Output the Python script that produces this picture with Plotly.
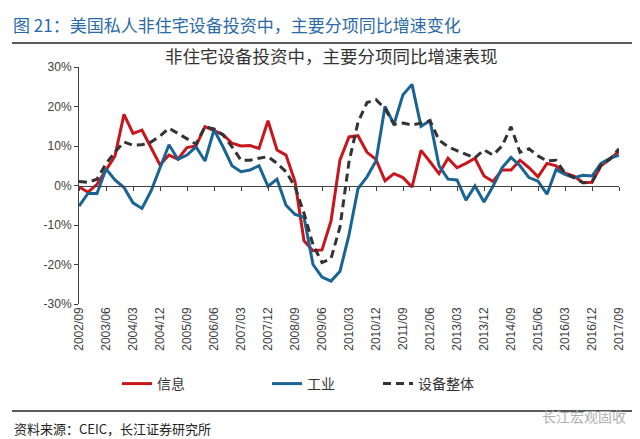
import plotly.graph_objects as go

quarters = [
    "2002/09", "2002/12", "2003/03", "2003/06", "2003/09", "2003/12", "2004/03", "2004/06",
    "2004/09", "2004/12", "2005/03", "2005/06", "2005/09", "2005/12", "2006/03", "2006/06",
    "2006/09", "2006/12", "2007/03", "2007/06", "2007/09", "2007/12", "2008/03", "2008/06",
    "2008/09", "2008/12", "2009/03", "2009/06", "2009/09", "2009/12", "2010/03", "2010/06",
    "2010/09", "2010/12", "2011/03", "2011/06", "2011/09", "2011/12", "2012/03", "2012/06",
    "2012/09", "2012/12", "2013/03", "2013/06", "2013/09", "2013/12", "2014/03", "2014/06",
    "2014/09", "2014/12", "2015/03", "2015/06", "2015/09", "2015/12", "2016/03", "2016/06",
    "2016/09", "2016/12", "2017/03", "2017/06", "2017/09",
]

tick_labels = quarters[::3]

info = [
    -0.3, -1.7, 0.3, 4.0, 7.5, 18.0, 13.2, 14.0, 9.4, 5.2, 7.7, 6.7, 9.6, 10.0, 14.9,
    13.8, 12.9, 10.7, 10.0, 10.1, 9.4, 16.4, 9.0, 7.7, 1.0, -14.0, -16.5, -16.3, -9.0, 6.5, 12.3,
    12.6, 8.4, 6.6, 1.2, 3.0, 2.0, -0.4, 8.9, 6.0, 3.0, 6.9, 4.5, 5.6, 6.9, 2.4, 1.0,
    3.9, 3.9, 6.4, 4.5, 2.2, 5.6, 5.0, 3.1, 2.4, 0.7, 0.8, 5.0, 6.7, 8.7,
]

industry = [
    -5.2, -2.0, -2.0, 4.2, 1.4, -0.5, -4.4, -5.8, -1.4, 4.3, 10.3, 6.6, 7.7, 9.8, 6.2,
    14.1, 9.8, 5.0, 3.5, 3.9, 5.0, -0.2, 1.6, -5.0, -7.3, -8.0, -20.0, -23.2, -24.2, -21.7, -12.5,
    -0.8, 2.2, 6.2, 20.0, 15.5, 23.0, 25.6, 15.0, 16.4, 5.0, 1.6, 1.4, -3.7, -0.1, -4.2, -0.2,
    4.5, 7.1, 5.0, 2.0, 1.1, -2.2, 4.0, 2.8, 2.0, 2.6, 2.4, 5.6, 6.9, 7.7,
]

equipment = [
    1.0, 0.8, 1.6, 5.5, 8.5, 11.0, 10.2, 10.3, 11.0, 12.5, 14.5, 13.2, 12.0, 10.5, 14.9,
    14.3, 12.8, 9.8, 6.4, 6.4, 6.9, 7.3, 5.6, 3.5, -0.3, -7.0, -15.0, -19.5, -18.5, -10.5, 6.0,
    16.0, 21.0, 21.7, 19.5, 15.5, 15.8, 15.3, 15.8, 16.4, 11.5, 9.8, 8.8, 7.8, 7.0, 9.0, 7.7,
    10.0, 14.9, 8.4, 9.3, 7.5, 6.2, 6.4, 3.1, 2.0, 0.7, 0.9, 5.2, 6.7, 9.3,
]

series_names = ["信息", "工业", "设备整体"]
y_ticks = [-30, -20, -10, 0, 10, 20, 30]

FONT = "Liberation Sans, Arial, Noto Sans CJK SC, sans-serif"
CJK = "Noto Sans CJK SC, Liberation Sans, sans-serif"

RED = "#c8161d"
BLUE = "#1a6494"
BLACK = "#333333"

fig = go.Figure()
fig.add_trace(go.Scatter(x=quarters, y=info, mode="lines", name=series_names[0],
                         line=dict(color=RED, width=3), legend="legend"))
fig.add_trace(go.Scatter(x=quarters, y=industry, mode="lines", name=series_names[1],
                         line=dict(color=BLUE, width=3), legend="legend2"))
fig.add_trace(go.Scatter(x=quarters, y=equipment, mode="lines", name=series_names[2],
                         line=dict(color=BLACK, width=3, dash="8px,5px"), legend="legend3"))
# helper axis carrying the tick marks on the zero line
fig.add_trace(go.Scatter(x=[0], y=[None], xaxis="x2", showlegend=False, hoverinfo="skip"))

L, R, T, B = 71, 29, 59, 143
W, H = 640, 439
pw, ph = W - L - R, H - T - B

def px(x):
    return (x - L) / pw

def py(y):
    return (H - B - y) / ph

legend_common = dict(orientation="h", yanchor="middle", xanchor="left", bgcolor="rgba(0,0,0,0)",
                     font=dict(family=CJK, size=14, color="#333333"), itemwidth=30,
                     tracegroupgap=0)

fig.update_layout(
    width=W, height=H,
    margin=dict(l=L, r=R, t=T, b=B),
    paper_bgcolor="white", plot_bgcolor="white",
    showlegend=True,
    xaxis=dict(type="category", range=[0, len(quarters) - 1], tickmode="array",
               tickvals=tick_labels, ticktext=tick_labels, tickangle=-90,
               showline=False, ticks="", showgrid=False, zeroline=False,
               tickfont=dict(family=FONT, size=12, color="#404040")),
    xaxis2=dict(overlaying="x", anchor="free", position=0.5, range=[0, len(quarters) - 1],
                tickmode="linear", tick0=0, dtick=3, ticks="outside", ticklen=4,
                tickcolor="#404040", showline=True, linecolor="#404040", linewidth=1,
                showticklabels=False, showgrid=False, zeroline=False),
    yaxis=dict(range=[-30, 30], tickvals=y_ticks, ticktext=[f"{v}%" for v in y_ticks],
               showline=True, linecolor="#404040", linewidth=1, ticks="outside", ticklen=4,
               tickcolor="#404040", showgrid=False, zeroline=False,
               tickfont=dict(family=FONT, size=12, color="#404040")),
    legend=dict(x=px(109), y=py(376), **legend_common),
    legend2=dict(x=px(259), y=py(376), **legend_common),
    legend3=dict(x=px(370), y=py(376), **legend_common),
)

fig.add_annotation(text="图 21：美国私人非住宅设备投资中，主要分项同比增速变化",
                   xref="paper", yref="paper", x=px(3), y=py(17), xanchor="left", yanchor="middle",
                   showarrow=False, font=dict(family=CJK, size=17, color="#2a6aa6"))
fig.add_annotation(text="非住宅设备投资中，主要分项同比增速表现",
                   xref="paper", yref="paper", x=px(323), y=py(48), xanchor="center", yanchor="middle",
                   showarrow=False, font=dict(family=CJK, size=17.5, color="#333333"))
fig.add_annotation(text="资料来源：CEIC，长江证券研究所",
                   xref="paper", yref="paper", x=px(4), y=py(420), xanchor="left", yanchor="middle",
                   showarrow=False, font=dict(family=CJK, size=13, color="#222222"))
fig.add_annotation(text="长江宏观固收",
                   xref="paper", yref="paper", x=px(620), y=py(408), xanchor="right", yanchor="middle",
                   showarrow=False, font=dict(family=CJK, size=14, color="#b0b0b0"))

fig.add_shape(type="line", xref="paper", yref="paper", x0=px(4), x1=px(636), y0=py(35), y1=py(35),
              line=dict(color="#222222", width=1.5))
fig.add_shape(type="line", xref="paper", yref="paper", x0=px(4), x1=px(636), y0=py(403), y1=py(403),
              line=dict(color="#222222", width=1.5))

fig.write_html("out.html")
